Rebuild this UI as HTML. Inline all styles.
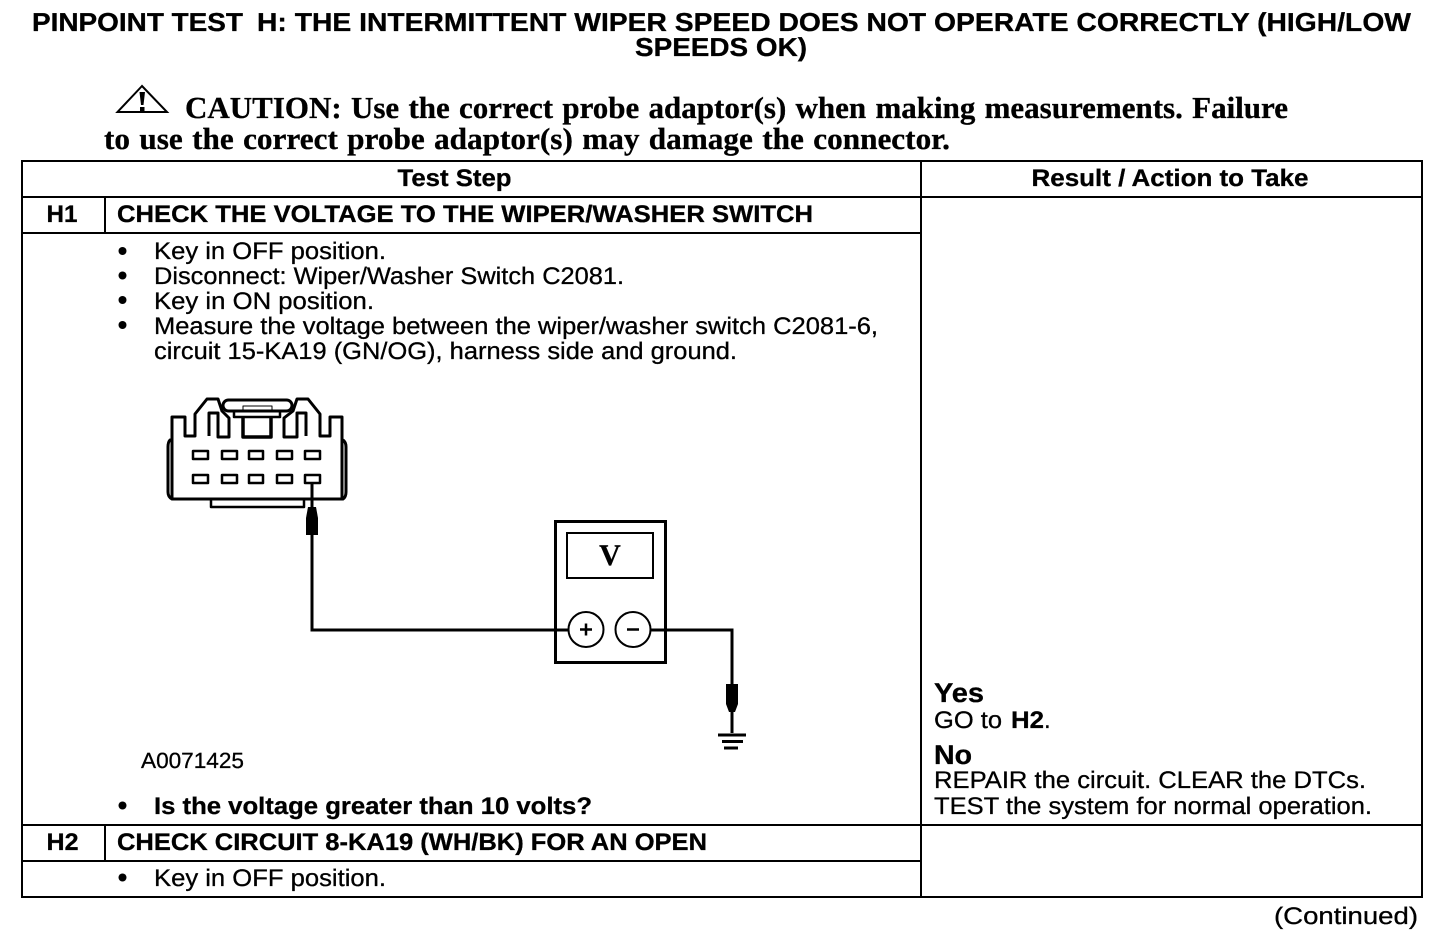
<!DOCTYPE html>
<html><head><meta charset="utf-8"><style>
html,body{margin:0;padding:0;background:#fff}
svg{display:block}
text{font-family:"Liberation Sans",sans-serif;fill:#000;stroke:#000;stroke-width:.3px;text-rendering:geometricPrecision}
.b{font-weight:bold}
.s{font-family:"Liberation Serif",serif;font-weight:bold}
.f{font-size:24px}
</style></head><body>
<svg width="1456" height="944" viewBox="0 0 1456 944" xmlns="http://www.w3.org/2000/svg">
<rect width="1456" height="944" fill="#fff"/>
<text class="b" x="32" y="31" font-size="26" textLength="211" lengthAdjust="spacingAndGlyphs">PINPOINT TEST</text>
<text class="b" x="257" y="31" font-size="26" textLength="1154" lengthAdjust="spacingAndGlyphs">H: THE INTERMITTENT WIPER SPEED DOES NOT OPERATE CORRECTLY (HIGH/LOW</text>
<text class="b" x="635" y="56" font-size="26" textLength="172" lengthAdjust="spacingAndGlyphs">SPEEDS OK)</text>
<path d="M142 86L117.500 112H167Z" fill="none" stroke="#000" stroke-width="2"/>
<path d="M139.500 92H145L143.500 105H141ZM140 107H144.500V111H140Z" fill="#000"/>
<text class="s" x="185" y="118" font-size="30.500" word-spacing="1.500" textLength="1103" lengthAdjust="spacingAndGlyphs">CAUTION: Use the correct probe adaptor(s) when making measurements. Failure</text>
<text class="s" x="104" y="149" font-size="30.500" word-spacing="1.500" textLength="846" lengthAdjust="spacingAndGlyphs">to use the correct probe adaptor(s) may damage the connector.</text>

<g stroke="#000" stroke-width="2" fill="none" shape-rendering="crispEdges">
<rect x="22" y="161" width="1400" height="736"/>
<path d="M22 197H1422M22 233H921M22 825H1422M22 861H921M921 161V897M105 197V233M105 825V861"/>
</g>

<text class="b f" x="397.500" y="186" textLength="114" lengthAdjust="spacingAndGlyphs">Test Step</text>
<text class="b f" x="1031.500" y="186" textLength="277" lengthAdjust="spacingAndGlyphs">Result / Action to Take</text>
<text class="b f" x="46.500" y="222" textLength="31" lengthAdjust="spacingAndGlyphs">H1</text>
<text class="b f" x="117" y="222" textLength="696" lengthAdjust="spacingAndGlyphs">CHECK THE VOLTAGE TO THE WIPER/WASHER SWITCH</text>

<g fill="#000">
<circle cx="122.500" cy="251" r="4"/><circle cx="122.500" cy="275.500" r="4"/><circle cx="122.500" cy="300" r="4"/><circle cx="122.500" cy="325" r="4"/><circle cx="122.500" cy="805.500" r="4"/><circle cx="122.500" cy="877.500" r="4"/>
</g>
<text class="f" x="154" y="259" textLength="232" lengthAdjust="spacingAndGlyphs">Key in OFF position.</text>
<text class="f" x="154" y="284" textLength="470" lengthAdjust="spacingAndGlyphs">Disconnect: Wiper/Washer Switch C2081.</text>
<text class="f" x="154" y="309" textLength="220" lengthAdjust="spacingAndGlyphs">Key in ON position.</text>
<text class="f" x="154" y="334" textLength="724" lengthAdjust="spacingAndGlyphs">Measure the voltage between the wiper/washer switch C2081-6,</text>
<text class="f" x="154" y="359" textLength="583" lengthAdjust="spacingAndGlyphs">circuit 15-KA19 (GN/OG), harness side and ground.</text>

<!-- connector -->
<g fill="none" stroke="#000" stroke-width="3" stroke-linejoin="round">
<path d="M172 440H170Q168 442 168 447V492Q168 497 172 499H343Q346 497 346 492V447Q346 442 343 440"/>
<path d="M172 499V417H185V436H195V414L207 399H218L222 411L229 418V437H218V413H209V436"/>
<path d="M342 499V417H330V436H320V414L308 399H297L293 411L284 418V437H297V413H306V436"/>
<rect x="223" y="400" width="69" height="11" rx="5.500"/>
<path d="M243 417V437H271V417" stroke-width="3.500"/>
<path d="M211 499V507H304V499" stroke-width="2.500"/>
<g stroke-width="2.500">
<rect x="193" y="451" width="15" height="8"/><rect x="222" y="451" width="15" height="8"/><rect x="249" y="451" width="14" height="8"/><rect x="277" y="451" width="15" height="8"/><rect x="305" y="451" width="15" height="8"/>
<rect x="193" y="475" width="15" height="8"/><rect x="222" y="475" width="15" height="8"/><rect x="249" y="475" width="14" height="8"/><rect x="277" y="475" width="15" height="8"/><rect x="305" y="475" width="15" height="8"/>
</g>
<rect x="234" y="411" width="46" height="6" stroke-width="2.500"/>
<rect x="243" y="406" width="29" height="5" stroke-width="1"/>
</g>
<!-- wires -->
<path d="M312 483V630H568M650 630H732V733" fill="none" stroke="#000" stroke-width="3"/>
<path d="M308 507H316L318 518V535H306V518Z" fill="#000"/>
<path d="M726 684H738V704L735 712H729L726 704Z" fill="#000"/>
<!-- meter -->
<rect x="555.500" y="521.500" width="110" height="141" fill="none" stroke="#000" stroke-width="3"/>
<rect x="567" y="533" width="86" height="45" fill="none" stroke="#000" stroke-width="2"/>
<text class="s" x="610" y="565" font-size="30" text-anchor="middle">V</text>
<circle cx="586" cy="629.500" r="17.500" fill="#fff" stroke="#000" stroke-width="2"/>
<circle cx="633" cy="629.500" r="17.500" fill="#fff" stroke="#000" stroke-width="2"/>
<path d="M580 629.500H592M586 623.500V635.500M627 629.500H639" stroke="#000" stroke-width="2.500" fill="none"/>
<path d="M718 735H746M722 741.500H743M724 748H738" stroke="#000" stroke-width="3" fill="none"/>

<text x="141" y="768" font-size="22" textLength="103" lengthAdjust="spacingAndGlyphs">A0071425</text>
<text class="b f" x="154" y="814" textLength="438" lengthAdjust="spacingAndGlyphs">Is the voltage greater than 10 volts?</text>
<text class="b f" x="46.500" y="850" textLength="32" lengthAdjust="spacingAndGlyphs">H2</text>
<text class="b f" x="117" y="850" textLength="590" lengthAdjust="spacingAndGlyphs">CHECK CIRCUIT 8-KA19 (WH/BK) FOR AN OPEN</text>
<text class="f" x="154" y="886" textLength="232" lengthAdjust="spacingAndGlyphs">Key in OFF position.</text>

<text class="b" x="934" y="702" font-size="27" textLength="50" lengthAdjust="spacingAndGlyphs">Yes</text>
<text class="f" x="934" y="728" textLength="68" lengthAdjust="spacingAndGlyphs">GO to</text>
<text class="b f" x="1011" y="728" textLength="33" lengthAdjust="spacingAndGlyphs">H2</text>
<text class="f" x="1044" y="728">.</text>
<text class="b" x="934" y="764" font-size="27" textLength="38" lengthAdjust="spacingAndGlyphs">No</text>
<text class="f" x="934" y="788" textLength="432" lengthAdjust="spacingAndGlyphs">REPAIR the circuit. CLEAR the DTCs.</text>
<text class="f" x="934" y="814" textLength="438" lengthAdjust="spacingAndGlyphs">TEST the system for normal operation.</text>
<text class="f" x="1274" y="924" textLength="144" lengthAdjust="spacingAndGlyphs">(Continued)</text>
</svg>
</body></html>
